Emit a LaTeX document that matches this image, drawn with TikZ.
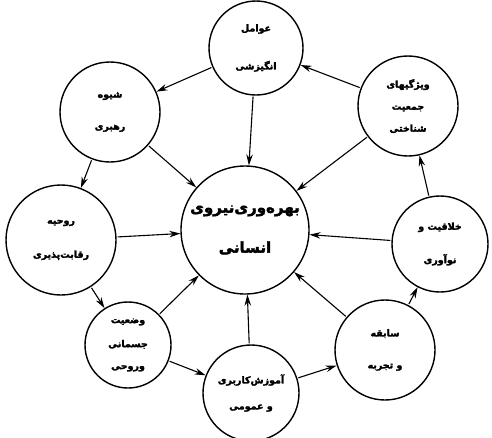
\documentclass[tikz,border=0pt]{standalone}
\usepackage{fontspec}
\TeXXeTstate=1
\newfontfamily\fafont[Script=Arabic, FakeBold=2.5]{DejaVu Sans Bold}
\newcommand{\fatext}[1]{{\fafont\beginR #1\endR}}
\usetikzlibrary{arrows.meta}
\tikzset{
  circ/.style={draw, circle, line width=1.4pt, inner sep=0pt, align=center, font=\fontsize{9.5}{11}\selectfont},
  conn/.style={line width=1.1pt, -{Stealth[length=11pt,width=6.5pt]}, shorten <=1pt}
}
\begin{document}
\begin{tikzpicture}[x=1pt,y=-1pt]
\useasboundingbox (0,0) rectangle (492,437);
\node[circ, minimum size=128pt, font=\fontsize{15}{17}\selectfont] (center) at (245,230) {\fatext{بهره‌وری‌نیروی}\\[23pt]\fatext{انسانی}};
\node[circ, minimum size=94pt] (top) at (256,48) {\fatext{عوامل}\\[27pt]\fatext{انگیزشی}};
\node[circ, minimum size=100pt] (lead) at (110,112) {\fatext{شیوه}\\[21pt]\fatext{رهبری}};
\node[circ, minimum size=100pt] (demo) at (408,106) {\fatext{ویژگیهای}\\[11pt]\fatext{جمعیت}\\[11pt]\fatext{شناختی}};
\node[circ, minimum size=110pt] (spirit) at (61,240) {\fatext{روحیه}\\[23pt]\fatext{رقابت‌پذیری}};
\node[circ, minimum size=96pt] (creat) at (440,244) {\fatext{خلاقیت و}\\[21pt]\fatext{نوآوری}};
\node[circ, minimum size=86pt] (phys) at (128,345) {\fatext{وضعیت}\\[13pt]\fatext{جسمانی}\\[11pt]\fatext{وروحی}};
\node[circ, minimum size=96pt] (edu) at (251,393) {\fatext{آموزش‌کاربری}\\[15pt]\fatext{و عمومی}};
\node[circ, minimum size=100pt] (exp) at (385,350) {\fatext{سابقه}\\[21pt]\fatext{و تجربه}};
\draw[conn] (top) -- (center);
\draw[conn] (top) -- (lead);
\draw[conn] (demo) -- (top);
\draw[conn] (lead) -- (center);
\draw[conn] (lead) -- (spirit);
\draw[conn] (demo) -- (center);
\draw[conn] (creat) -- (demo);
\draw[conn] (spirit) -- (center);
\draw[conn] (creat) -- (center);
\draw[conn] (spirit) -- (phys);
\draw[conn] (phys) -- (center);
\draw[conn] (phys) -- (edu);
\draw[conn] (edu) -- (center);
\draw[conn] (edu) -- (exp);
\draw[conn] (exp) -- (center);
\draw[conn] (exp) -- (creat);
\end{tikzpicture}
\end{document}
